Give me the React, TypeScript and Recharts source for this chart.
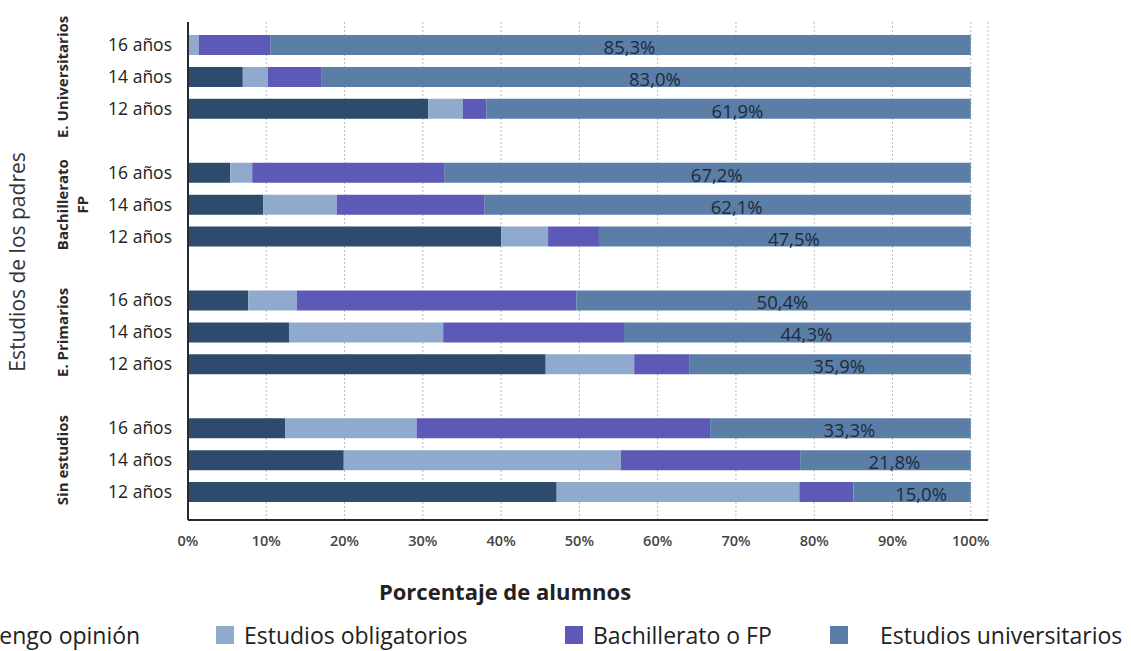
import { BarChart, Bar, XAxis, YAxis, CartesianGrid, Legend, LabelList } from 'recharts';

// rows top to bottom; gap rows separate the parent groups
const categories = [
    'EU-16', 'EU-14', 'EU-12', 'gap1',
    'BF-16', 'BF-14', 'BF-12', 'gap2',
    'EP-16', 'EP-14', 'EP-12', 'gap3',
    'SE-16', 'SE-14', 'SE-12',
];
const ageLabels = [
    '16 años', '14 años', '12 años', '',
    '16 años', '14 años', '12 años', '',
    '16 años', '14 años', '12 años', '',
    '16 años', '14 años', '12 años',
];

const noOpinion = [0, 7.0, 30.7, null, 5.4, 9.6, 40.0, null, 7.7, 12.9, 45.7, null, 12.4, 19.9, 47.1];
const obligatorios = [1.4, 3.2, 4.4, null, 2.8, 9.4, 6.0, null, 6.2, 19.7, 11.3, null, 16.8, 35.4, 31.0];
const bachFP = [9.1, 6.8, 3.0, null, 24.6, 18.9, 6.5, null, 35.7, 23.1, 7.1, null, 37.5, 22.9, 6.9];
const universitarios = [89.5, 83.0, 61.9, null, 67.2, 62.1, 47.5, null, 50.4, 44.3, 35.9, null, 33.3, 21.8, 15.0];
const univLabels = ['85,3%', '83,0%', '61,9%', '', '67,2%', '62,1%', '47,5%', '', '50,4%', '44,3%', '35,9%', '', '33,3%', '21,8%', '15,0%'];

// group name lines, keyed by the middle row of each group
const groupLabels: Record<string, string[]> = {
    'EU-14': ['E. Universitarios'],
    'BF-14': ['Bachillerato', 'FP'],
    'EP-14': ['E. Primarios'],
    'SE-14': ['Sin estudios'],
};

const xTicks = [0, 10, 20, 30, 40, 50, 60, 70, 80, 90, 100];

const seriesNames = ['No tengo opinión', 'Estudios obligatorios', 'Bachillerato o FP', 'Estudios universitarios'];
const colors = ['#2d4b6c', '#8faacd', '#5c5ab6', '#5b7ea7'];

const data = categories.map((c, i) => ({
    cat: c,
    noOpinion: noOpinion[i],
    obligatorios: obligatorios[i],
    bachFP: bachFP[i],
    universitarios: universitarios[i],
    label: univLabels[i],
}));

const font = '"Open Sans", "Noto Sans", sans-serif';

function AgeTick(props: any) {
    const { x, y, payload } = props;
    const idx = categories.indexOf(payload.value);
    const group = groupLabels[payload.value];
    return (
        <g>
            <text x={x} y={y} dy={6} textAnchor="end" fontSize={17.5} fill="#222" fontFamily={font}>
                {ageLabels[idx]}
            </text>
            {group &&
                group.map((line, j) => {
                    const gx = x - 104 + j * 20;
                    return (
                        <text
                            key={j}
                            x={gx}
                            y={y}
                            transform={`rotate(-90, ${gx}, ${y})`}
                            textAnchor="middle"
                            fontSize={15}
                            fontWeight={700}
                            fill="#2a2a2a"
                            fontFamily={font}
                        >
                            {line}
                        </text>
                    );
                })}
        </g>
    );
}

function UnivLabel(props: any) {
    const { x, y, width, height, value } = props;
    if (!value) return null;
    return (
        <text
            x={x + width / 2 + 9}
            y={y + height / 2 + 9}
            textAnchor="middle"
            fontSize={18.5}
            fontWeight={500}
            fill="#1c2b3e"
            fontFamily={font}
        >
            {value}
        </text>
    );
}

function LegendContent() {
    const lefts = [-74, 216, 565, 830];
    return (
        <div style={{ position: 'relative', height: 26, fontFamily: font, fontSize: 23, lineHeight: '26px', color: '#222' }}>
            {seriesNames.map((n, i) => (
                <div key={n} style={{ position: 'absolute', left: lefts[i], top: 0, height: 26, display: 'flex', alignItems: 'center', whiteSpace: 'nowrap' }}>
                    <span style={{ display: 'inline-block', width: 18, height: 18, background: colors[i], marginRight: i === 3 ? 32 : 10 }} />
                    <span>{n}</span>
                </div>
            ))}
        </div>
    );
}

export default function App() {
    return (
        <div style={{ position: 'absolute', left: 0, top: 0, width: 1131, height: 651, background: '#fff', overflow: 'hidden' }}>
            <BarChart
                width={1131}
                height={651}
                data={data}
                layout="vertical"
                barSize={20}
                margin={{ top: 22, right: 143, left: 0, bottom: 25 }}
            >
                <CartesianGrid horizontal={false} stroke="#bbb" strokeDasharray="2 2" />
                <XAxis
                    type="number"
                    domain={[0, 102.2]}
                    ticks={xTicks}
                    tickFormatter={(v) => `${v}%`}
                    tickLine={false}
                    axisLine={{ stroke: '#2a2a2a', strokeWidth: 2 }}
                    height={80}
                    tickMargin={10}
                    tick={{ fontSize: 14.5, fontWeight: 600, fill: '#444', fontFamily: font }}
                    label={{
                        content: () => (
                            <text x={505} y={600} textAnchor="middle" fontSize={22} fontWeight={700} fill="#222" fontFamily={font}>
                                Porcentaje de alumnos
                            </text>
                        ),
                    }}
                />
                <YAxis
                    type="category"
                    dataKey="cat"
                    width={188}
                    tickLine={false}
                    tickMargin={10}
                    interval={0}
                    padding={{ top: 7, bottom: 12 }}
                    axisLine={{ stroke: '#2a2a2a', strokeWidth: 2 }}
                    tick={<AgeTick />}
                    label={{
                        content: (p: any) => {
                            const vb = p.viewBox;
                            const cy = vb.y + vb.height / 2 - 9;
                            return (
                                <text x={25} y={cy} transform={`rotate(-90, 25, ${cy})`} textAnchor="middle" fontSize={21} fill="#333" fontFamily={font}>
                                    Estudios de los padres
                                </text>
                            );
                        },
                    }}
                />
                <Legend
                    content={<LegendContent />}
                    verticalAlign="bottom"
                    wrapperStyle={{ left: 0, bottom: 3, width: 1131 }}
                />
                <Bar dataKey="noOpinion" stackId="a" fill={colors[0]} name={seriesNames[0]} isAnimationActive={false} />
                <Bar dataKey="obligatorios" stackId="a" fill={colors[1]} name={seriesNames[1]} isAnimationActive={false} />
                <Bar dataKey="bachFP" stackId="a" fill={colors[2]} name={seriesNames[2]} isAnimationActive={false} />
                <Bar dataKey="universitarios" stackId="a" fill={colors[3]} name={seriesNames[3]} isAnimationActive={false}>
                    <LabelList dataKey="label" content={<UnivLabel />} />
                </Bar>
            </BarChart>
        </div>
    );
}
